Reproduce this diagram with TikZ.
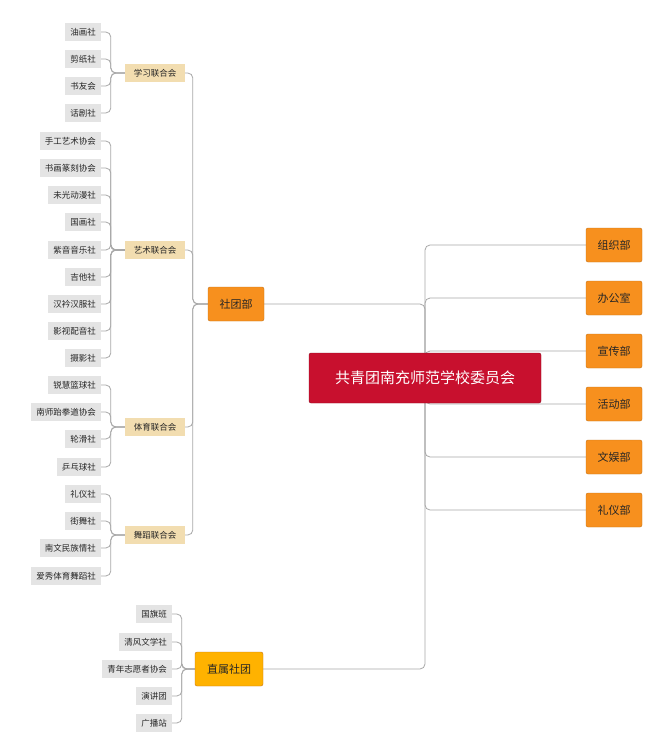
\documentclass[tikz,border=0pt]{standalone}
\usepackage{fontspec}
\setmainfont{Noto Sans CJK SC}
\usetikzlibrary{backgrounds}
\definecolor{rootred}{HTML}{C8102E}
\definecolor{deptorange}{HTML}{F7901E}
\definecolor{unionbeige}{HTML}{F2DDB0}
\definecolor{leafgray}{HTML}{E4E4E4}
\definecolor{linkgray}{HTML}{A8A8A8}
\begin{document}
\begin{tikzpicture}[x=1pt,y=-1pt,
  rootbox/.style={fill=rootred,draw=rootred!70!black,rounded corners=2pt,text=white,minimum width=232pt,minimum height=50pt,font=\fontsize{15}{17}\selectfont},
  deptbox/.style={fill=deptorange,draw=deptorange!80!black,rounded corners=2pt,text=black!85,minimum width=56pt,minimum height=34pt,font=\fontsize{11}{13}\selectfont},
  unionbox/.style={fill=unionbeige,text=black!85,minimum width=60pt,minimum height=18pt,inner sep=2pt,font=\fontsize{8.5}{10}\selectfont},
  leafbox/.style={fill=leafgray,text=black!85,minimum height=18pt,inner xsep=5pt,inner ysep=2pt,anchor=east,font=\fontsize{8.5}{10}\selectfont},
  link/.style={draw=linkgray,line width=0.8pt,rounded corners=5pt}]
\useasboundingbox (0,0) rectangle (664,755);
\node[rootbox] (root) at (425,378) {共青团南充师范学校委员会};
% departments on the right
\foreach \name/\y [count=\i] in {组织部/245,办公室/298,宣传部/351,活动部/404,文娱部/457,礼仪部/510}
  \node[deptbox] (d\i) at (614,\y) {\name};
\node[deptbox] (club) at (236,304) {社团部};
\node[deptbox,fill=orange!60!yellow,minimum width=68pt] (direct) at (229,669) {直属社团};
% unions
\node[unionbox] (u1) at (155,73) {学习联合会};
\node[unionbox] (u2) at (155,250) {艺术联合会};
\node[unionbox] (u3) at (155,427) {体育联合会};
\node[unionbox] (u4) at (155,535) {舞蹈联合会};
% leaves
\foreach \name/\y/\u [count=\i] in {油画社/32/1,剪纸社/59/1,书友会/86/1,话剧社/113/1,
  手工艺术协会/141/2,书画篆刻协会/168/2,未光动漫社/195/2,国画社/222/2,紫音音乐社/250/2,吉他社/277/2,汉衿汉服社/304/2,影视配音社/331/2,摄影社/358/2,
  锐慧篮球社/385/3,南师跆拳道协会/412/3,轮滑社/439/3,乒乓球社/467/3,
  礼仪社/494/4,街舞社/521/4,南文民族情社/548/4,爱秀体育舞蹈社/576/4}
  \node[leafbox] (l\i) at (101,\y) {\name};
\foreach \name/\y [count=\i] in {国旗班/614,清风文学社/642,青年志愿者协会/669,演讲团/696,广播站/723}
  \node[leafbox] (s\i) at (172,\y) {\name};
\begin{scope}[on background layer]
\fill[white] (0,0) rectangle (664,755);
\foreach \i in {1,...,6} \draw[link] (root.center) |- (d\i.west);
\draw[link] (root.center) |- (club.east);
\draw[link] (root.center) |- (direct.east);
\foreach \i in {1,...,4} \draw[link] (club.west) -- ++(-15,0) |- (u\i.east);
\foreach \i/\u in {1/1,2/1,3/1,4/1,5/2,6/2,7/2,8/2,9/2,10/2,11/2,12/2,13/2,14/3,15/3,16/3,17/3,18/4,19/4,20/4,21/4}
  \draw[link] (u\u.west) -- ++(-14,0) |- (l\i.east);
\foreach \i in {1,...,5} \draw[link] (direct.west) -- ++(-13,0) |- (s\i.east);
\end{scope}
\end{tikzpicture}
\end{document}
